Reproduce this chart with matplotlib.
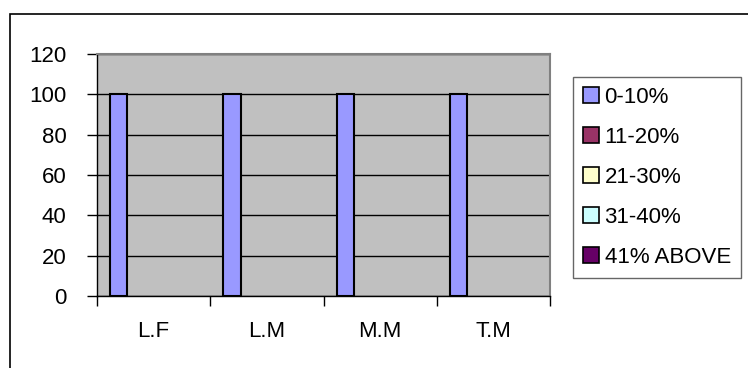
import matplotlib.pyplot as plt
import matplotlib.patches as mpatches
import numpy as np

plt.rcParams['font.family'] = ['Liberation Sans', 'DejaVu Sans']

categories = ['L.F', 'L.M', 'M.M', 'T.M']
series = ['0-10%', '11-20%', '21-30%', '31-40%', '41% ABOVE']
values = [
    [100, 100, 100, 100],
    [0, 0, 0, 0],
    [0, 0, 0, 0],
    [0, 0, 0, 0],
    [0, 0, 0, 0],
]
colors = ['#9999FF', '#993366', '#FFFFCC', '#CCFFFF', '#660066']

W, H = 748, 368
FS = 16
fig = plt.figure(figsize=(W / 100, H / 100), dpi=100)
ax = fig.add_axes([97 / W, 1 - 296 / H, (550 - 97) / W, (296 - 54) / H])
ax.set_facecolor('#C0C0C0')

# excel-style clustered bars: gap width 150% => group = 6.5 bar widths
n = len(series)
bw = 1 / 6.5
x = np.arange(len(categories))
handles = []
for i in range(n):
    left = x - 0.5 + (0.75 + i) * bw
    vals = np.array(values[i])
    ax.bar(left[vals > 0], vals[vals > 0], width=bw, align='edge',
           color=colors[i], edgecolor='black', linewidth=1.5, zorder=3)
    handles.append(mpatches.Patch(facecolor=colors[i], edgecolor='black',
                                  linewidth=1.2, label=series[i]))

ax.set_xlim(-0.5, len(categories) - 0.5)
ax.set_ylim(0, 120)
ax.set_yticks(np.arange(0, 121, 20))
ax.yaxis.grid(True, color='black', linewidth=1)
ax.set_axisbelow(True)

ax.set_xticks(x)
ax.set_xticklabels(categories)
ax.set_xticks(np.arange(-0.5, len(categories)), minor=True)
ax.tick_params(axis='x', which='major', length=0, pad=18, labelsize=FS)
ax.tick_params(axis='x', which='minor', length=7, width=1, direction='out')
ax.tick_params(axis='y', length=7, width=1, direction='out', pad=15,
               labelsize=FS)

for s in ['left', 'bottom']:
    ax.spines[s].set_color('black')
    ax.spines[s].set_linewidth(1)
for s in ['top', 'right']:
    ax.spines[s].set_color('#808080')
    ax.spines[s].set_linewidth(1.5)

leg = fig.legend(handles=handles, loc='upper left',
                 bbox_to_anchor=(573 / W, 1 - 77 / H),
                 fontsize=FS, frameon=True, fancybox=False,
                 handlelength=0.72, handleheight=0.72, handletextpad=0.25,
                 labelspacing=0.85, borderpad=0.45, borderaxespad=0)
leg.get_frame().set_edgecolor('#404040')
leg.get_frame().set_linewidth(1)

# outer chart border
fig.patches.append(mpatches.Rectangle((10 / W, -0.1), 1, 1 - 14 / H + 0.1,
                                      transform=fig.transFigure, fill=False,
                                      edgecolor='black', linewidth=1.2))

fig.savefig('out.png', dpi=100)
